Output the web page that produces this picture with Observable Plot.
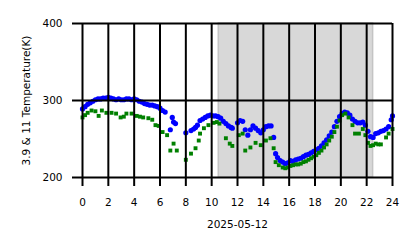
<!DOCTYPE html>
<html><head><meta charset="utf-8">
<script src="https://cdn.jsdelivr.net/npm/d3@7"></script>
<script src="https://cdn.jsdelivr.net/npm/@observablehq/plot@0.6"></script>
<style>body{margin:0;background:#fff}</style>
</head><body><div id="chart"></div>
<script>
const xTicks = [0,2,4,6,8,10,12,14,16,18,20,22,24];
const yTicks = [200,300,400];
const shade = [{start:10.55, end:22.5}];

const blueHours = [0.0,0.2,0.4,0.6,0.8,1.0,1.2,1.4,1.6,1.8,2.0,2.2,2.4,2.6,2.8,3.0,3.2,3.4,3.6,3.8,4.0,4.2,4.4,4.6,4.8,5.0,5.2,5.4,5.6,5.8,6.0,6.2,6.4,6.8,6.95,7.05,7.2,8.0,8.4,8.6,8.75,8.9,9.1,9.3,9.5,9.7,9.9,10.1,10.3,10.5,10.7,10.9,11.1,11.3,11.5,11.6,12.0,12.2,12.4,12.6,12.8,13.0,13.2,13.4,13.6,13.8,14.0,14.2,14.4,14.6,14.8,14.95,15.1,15.3,15.5,15.7,15.9,16.1,16.3,16.5,16.7,16.9,17.1,17.3,17.5,17.7,17.9,18.1,18.3,18.5,18.7,18.9,19.1,19.3,19.5,19.7,19.9,20.1,20.3,20.5,20.7,20.9,21.1,21.3,21.5,21.7,21.9,22.1,22.3,22.5,22.7,22.9,23.1,23.3,23.5,23.7,23.9,24.0];
const blueTemps = [289,292,295,297,299,301,302,302,303,303,304,303,302,301,302,301,301,302,302,301,302,301,299,298,296,295,294,294,293,292,290,287,285,262,278,272,270,258,261,263,265,268,274,276,278,280,281,280,280,279,277,273,270,267,265,264,271,274,273,262,255,262,267,264,261,258,262,266,267,267,252,231,226,222,220,218,219,222,221,223,224,225,227,229,230,232,234,236,238,241,245,249,254,259,266,273,279,283,285,284,281,276,273,271,271,272,268,260,253,252,257,258,260,261,263,266,275,280];

const greenHours = [0.0,0.2,0.4,0.7,1.0,1.25,1.5,1.85,2.25,2.6,2.95,3.2,3.4,3.8,4.2,4.45,4.7,5.1,5.4,5.65,5.9,6.2,6.55,6.8,7.05,7.3,8.0,8.4,8.75,9.0,9.1,9.4,9.75,10.15,10.4,10.6,11.1,11.4,11.6,12.1,12.4,12.6,13.0,13.4,13.8,14.2,14.55,14.8,14.95,15.2,15.5,15.7,15.9,16.1,16.3,16.5,16.7,16.9,17.1,17.3,17.5,17.7,17.9,18.1,18.3,18.5,18.7,18.9,19.1,19.3,19.5,19.7,19.9,20.1,20.35,20.6,20.9,21.1,21.4,21.7,21.9,22.1,22.3,22.5,22.7,22.9,23.1,23.5,23.7,24.0];
const greenTemps = [278,281,284,287,286,280,287,284,284,283,278,279,283,283,280,279,278,277,275,268,267,259,255,235,244,235,223,231,238,248,257,264,268,271,272,270,251,244,241,255,257,235,239,245,242,248,251,238,220,216,213,212,213,215,216,217,217,218,220,221,223,225,227,229,232,235,239,243,248,253,259,266,274,281,283,278,268,257,257,263,255,245,241,242,244,243,243,252,257,263];

const blue = blueHours.map((h,i)=>({h, t: blueTemps[i]}));
const green = greenHours.map((h,i)=>({h, t: greenTemps[i]}));

const chart = Plot.plot({
  width: 418, height: 248,
  marginLeft: 82, marginRight: 26, marginTop: 23, marginBottom: 71,
  style: {fontFamily: "DejaVu Sans", fontSize: "10.5px", color: "#000", background: "#fff"},
  x: {domain: [0,24]},
  y: {domain: [200,400]},
  marks: [
    Plot.rectX(shade, {x1: "start", x2: "end", fill: "#d8d8d8", stroke: "#c4c4c4", strokeWidth: 1.5}),
    Plot.dot(blue, {x: "h", y: "t", r: 2.6, fill: "#0000ff", stroke: "none"}),
    Plot.dot(green, {x: "h", y: "t", symbol: "square", r: 2.2, fill: "#008000", stroke: "none"}),
    Plot.gridX(xTicks, {stroke: "#000", strokeOpacity: 1, strokeWidth: 2}),
    Plot.gridY(yTicks, {stroke: "#000", strokeOpacity: 1, strokeWidth: 2}),
    Plot.axisX(xTicks, {tickSize: 9, tickPadding: 12, strokeWidth: 2, label: "2025-05-12", labelAnchor: "center", labelArrow: "none", labelOffset: 50}),
    Plot.axisY(yTicks, {tickSize: 10, tickPadding: 10, strokeWidth: 2, label: "3.9 & 11 Temperature(K)", labelAnchor: "center", labelArrow: "none", labelOffset: 60})
  ]
});
document.getElementById("chart").appendChild(chart);
</script>
</body></html>
